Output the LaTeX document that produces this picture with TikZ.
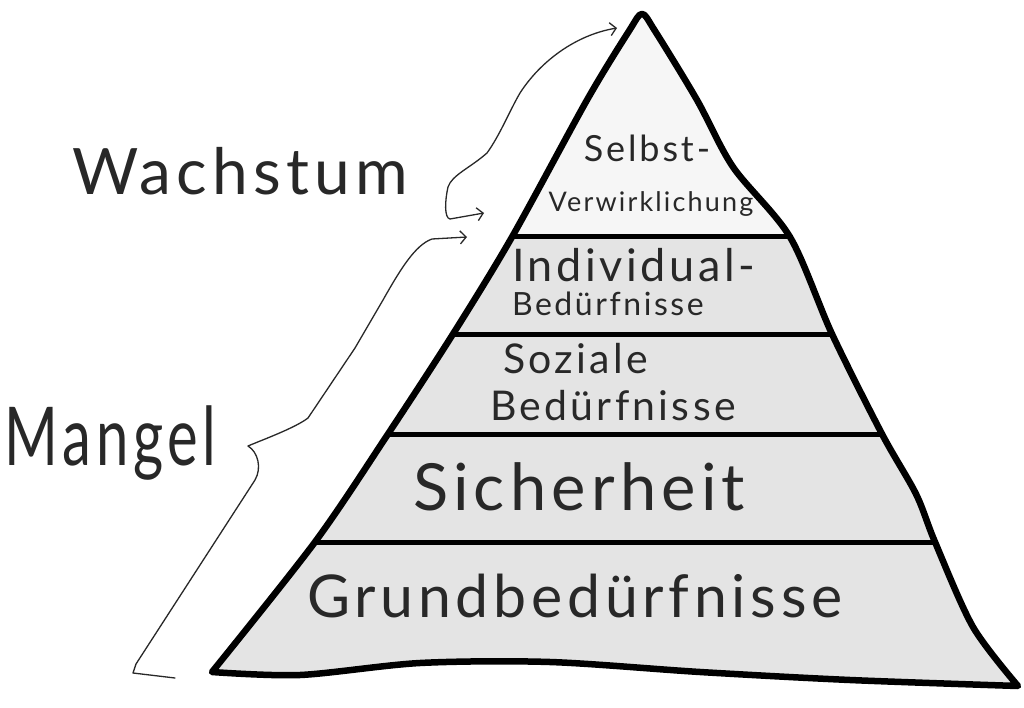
\documentclass[tikz,border=0pt]{standalone}
\usepackage{fontspec}
\usepackage{graphicx}
\setmainfont{Lato}
\newfontfamily\handfont[LetterSpace=8]{Lato}
\usetikzlibrary{arrows.meta, positioning}

\definecolor{spitze}{RGB}{246,246,246}
\definecolor{stufe}{RGB}{228,228,228}
\definecolor{stift}{RGB}{40,40,40}

\newcommand{\handsize}[1]{\handfont\fontsize{#1}{#1}\selectfont}

\begin{document}
\begin{tikzpicture}[x=1pt, y=-1pt,
  >={Straight Barb[length=6pt, width=13pt]},
  every node/.style={inner sep=0pt, outer sep=0pt, text=stift},
  outline/.style={line width=6.5pt, line join=round, line cap=round},
  divider/.style={line width=5pt},
  brace/.style={line width=1.3pt, draw=stift, line cap=round, line join=round}]

\fill[white] (0,0) rectangle (1024,708);
\useasboundingbox (0,0) rectangle (1024,708);

% Ecken und Stufen der Pyramide
\coordinate (apex) at (642,14);
\coordinate (bl) at (212,672);
\coordinate (br) at (1018,686);
\coordinate (l1) at (512,237);
\coordinate (l2) at (453,334);
\coordinate (l3) at (388,434);
\coordinate (l4) at (315,542);
\coordinate (r1) at (790,237);
\coordinate (r2) at (832,334);
\coordinate (r3) at (882,434);
\coordinate (r4) at (935,542);

\path[save path=\pyramide]
  plot[smooth, tension=0.5] coordinates {(bl) (l4) (l3) (l2) (l1) (587,100) (629,31) (apex) (655,31) (697,100) (733,167) (r1) (r2) (r3) (916,494) (r4) (973,627) (br)}
  -- plot[smooth, tension=0.5] coordinates {(br) (850,680) (700,672) (550,662) (420,663) (300,675) (bl)}
  -- cycle;

% Flaechen
\fill[stufe, use path=\pyramide];
\fill[spitze] plot[smooth, tension=0.5] coordinates {(l1) (587,100) (629,31) (apex) (655,31) (697,100) (733,167) (r1)} -- cycle;

% Trennlinien
\draw[divider] (l1) -- (r1);
\draw[divider] (l2) -- (r2);
\draw[divider] (l3) -- (r3);
\draw[divider] (l4) -- (r4);

\draw[outline, use path=\pyramide];

% Beschriftung der Stufen
\node[anchor=base, font={\handsize{36}}] (selbst) at (647,162) {Selbst-};
\node[anchor=base, font={\handsize{27}}] (verwirk) at (651,212) {Verwirklichung};
\node[anchor=base west, font={\handsize{45}}] (indiv) at (512,282) {Individual-};
\node[anchor=base west, font={\handsize{32}}] (indivbed) at (512,316) {Bedürfnisse};
\node[anchor=base west, font={\handsize{41}}] (sozial) at (503,373) {Soziale};
\node[anchor=base west, font={\handsize{41}}] (sozialbed) at (490,420) {Bedürfnisse};
\node[anchor=base west, font={\handsize{65}}] (sicher) at (413,510) {Sicherheit};
\node[anchor=base west, font={\handsize{59}}] (grund) at (307,617) {Grundbedürfnisse};

% Seitenbeschriftung
\node[anchor=base west, font={\handsize{64}}] (wachstum) at (72,195) {Wachstum};
\node[anchor=base west, font={\handsize{58}}] (mangel) at (5,465) {\scalebox{1}[1.4]{Mangel}};

% Klammern mit Pfeilen
\coordinate (mangelende) at (175,678);
\coordinate (mangelziel) at (467,237);
\coordinate (wachstumziel) at (484,213);
\coordinate (apexziel) at (617,28);

\draw[brace, ->] (mangelende) -- (133,673) -- (136,664) -- (255,480)
  .. controls (262,468) and (258,452) .. (248,446)
  .. controls (262,440) and (295,428) .. (308,418)
  -- (355,348) -- (383,300)
  .. controls (400,270) and (415,245) .. (432,239) -- (mangelziel);

\draw[brace, <->] (wachstumziel) -- (450,219)
  .. controls (444,218) and (445,200) .. (448,187)
  .. controls (452,175) and (470,168) .. (487,153)
  .. controls (500,135) and (510,110) .. (520,93)
  .. controls (540,62) and (575,35) .. (apexziel);

\end{tikzpicture}
\end{document}
